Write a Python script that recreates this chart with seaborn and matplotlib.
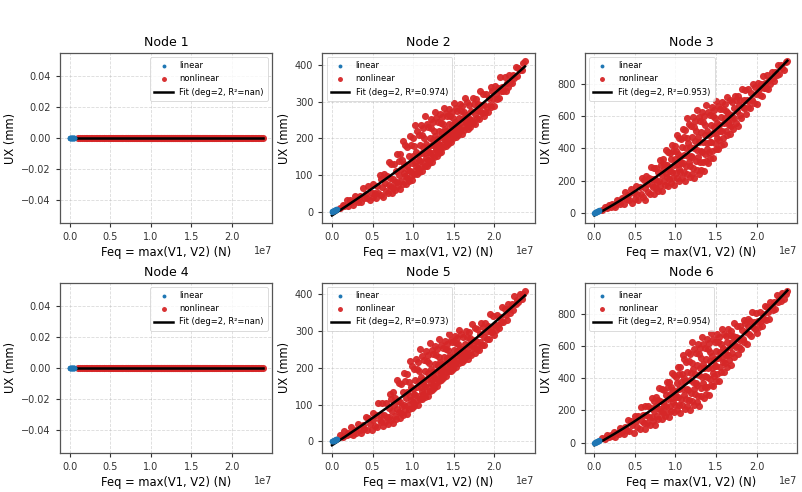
import numpy as np
import matplotlib
matplotlib.use("Agg")
import matplotlib.pyplot as plt
import seaborn as sns

# ---------------- data (Feq in units of 1e7 N, UX in mm) ----------------
feq_x1e7 = [
    0.10, 0.13, 0.15, 0.18,
    0.20, 0.22, 0.24, 0.26, 0.28,
    0.30, 0.32, 0.34, 0.36, 0.38,
    0.40, 0.42, 0.43, 0.45, 0.47, 0.49,
    0.50, 0.51, 0.53, 0.54, 0.56, 0.57, 0.59,
    0.60, 0.61, 0.62, 0.63, 0.64, 0.65, 0.66, 0.68, 0.69,
    0.700, 0.708, 0.716, 0.725, 0.733, 0.741, 0.750, 0.758, 0.766, 0.775, 0.783, 0.791,
    0.800, 0.807, 0.814, 0.821, 0.829, 0.836, 0.843, 0.850, 0.857, 0.864, 0.871, 0.879, 0.886, 0.893,
    0.900, 0.906, 0.912, 0.919, 0.925, 0.931, 0.937, 0.944, 0.950, 0.956, 0.962, 0.969, 0.975, 0.981, 0.987, 0.994,
    1.000, 1.006, 1.011, 1.017, 1.022, 1.028, 1.033, 1.039, 1.044, 1.050, 1.056, 1.061, 1.067, 1.072, 1.078, 1.083, 1.089, 1.094,
    1.100, 1.105, 1.111, 1.116, 1.121, 1.126, 1.132, 1.137, 1.142, 1.147, 1.153, 1.158, 1.163, 1.168, 1.174, 1.179, 1.184, 1.189, 1.195,
    1.200, 1.205, 1.210, 1.215, 1.220, 1.225, 1.230, 1.235, 1.240, 1.245, 1.250, 1.255, 1.260, 1.265, 1.270, 1.275, 1.280, 1.285, 1.290, 1.295,
    1.300, 1.305, 1.310, 1.315, 1.320, 1.325, 1.330, 1.335, 1.340, 1.345, 1.350, 1.355, 1.360, 1.365, 1.370, 1.375, 1.380, 1.385, 1.390, 1.395,
    1.400, 1.405, 1.411, 1.416, 1.421, 1.426, 1.432, 1.437, 1.442, 1.447, 1.453, 1.458, 1.463, 1.468, 1.474, 1.479, 1.484, 1.489, 1.495,
    1.500, 1.506, 1.512, 1.518, 1.524, 1.529, 1.535, 1.541, 1.547, 1.553, 1.559, 1.565, 1.571, 1.576, 1.582, 1.588, 1.594,
    1.600, 1.607, 1.613, 1.620, 1.627, 1.633, 1.640, 1.647, 1.653, 1.660, 1.667, 1.673, 1.680, 1.687, 1.693,
    1.700, 1.708, 1.717, 1.725, 1.733, 1.742, 1.750, 1.758, 1.767, 1.775, 1.783, 1.792,
    1.80, 1.81, 1.82, 1.83, 1.84, 1.85, 1.86, 1.87, 1.88, 1.89,
    1.900, 1.911, 1.922, 1.933, 1.944, 1.956, 1.967, 1.978, 1.989,
    2.000, 2.013, 2.025, 2.038, 2.050, 2.063, 2.075, 2.088,
    2.100, 2.114, 2.129, 2.143, 2.157, 2.171, 2.186,
    2.200, 2.217, 2.233, 2.250, 2.267, 2.283,
    2.30, 2.32, 2.34, 2.36, 2.38,
]

ux_node2 = [
    9, 18, 15, 32,
    16, 32, 25, 17, 42,
    33, 26, 44, 25, 64,
    38, 48, 36, 70, 32, 52,
    39, 75, 50, 37, 70, 52, 100,
    46, 90, 66, 41, 104, 77, 55, 97, 51,
    135, 73, 91, 67, 130, 52, 89, 64, 129, 80, 58, 112,
    81, 157, 69, 138, 100, 62, 157, 116, 83, 140, 75, 194, 106, 130,
    96, 182, 76, 125, 91, 177, 113, 84, 152, 112, 206, 97, 182, 134, 87, 202,
    152, 112, 178, 102, 237, 136, 163, 124, 219, 102, 155, 118, 210, 140, 108, 181, 138, 237,
    122, 210, 159, 111, 228, 176, 135, 202, 125, 260, 159, 186, 147, 240, 125, 177, 141, 230, 162,
    132, 201, 161, 254, 145, 227, 181, 136, 244, 196, 159, 220, 150, 273, 181, 206, 171, 255, 152, 198,
    166, 245, 185, 159, 220, 184, 266, 171, 243, 203, 163, 258, 217, 184, 238, 177, 284, 204, 225, 195,
    268, 179, 220, 191, 261, 208, 185, 239, 208, 280, 196, 260, 224, 189, 273, 237, 208, 255, 201,
    297, 226, 245, 218, 283, 203, 240, 215, 276, 230, 209, 257, 229, 294, 219, 276, 244,
    213, 288, 255, 230, 272, 224, 310, 246, 263, 239, 298, 226, 259, 236, 292,
    250, 232, 276, 251, 310, 243, 295, 266, 239, 307, 278, 256,
    294, 252, 329, 274, 290, 270, 322, 260, 290, 272,
    320, 286, 272, 310, 291, 340, 287, 329, 308,
    288, 343, 322, 307, 338, 309, 367, 328,
    341, 329, 367, 328, 350, 341, 374,
    355, 350, 374, 366, 394, 371,
    393, 388, 386, 407, 412,
]

ux_node3 = [
    17, 34, 30, 52,
    34, 58, 51, 35, 79,
    69, 57, 90, 55, 128,
    85, 108, 82, 149, 63, 121,
    87, 167, 115, 78, 161, 120, 218,
    101, 202, 155, 81, 229, 182, 131, 218, 116,
    284, 173, 213, 159, 279, 116, 211, 154, 281, 192, 135, 255,
    195, 327, 164, 300, 235, 135, 332, 267, 198, 306, 173, 389, 245, 295,
    225, 376, 167, 285, 212, 371, 257, 184, 333, 256, 419, 214, 382, 300, 176, 416,
    335, 250, 382, 216, 482, 303, 364, 274, 465, 200, 350, 255, 459, 312, 216, 409, 308, 522,
    251, 472, 362, 196, 513, 404, 290, 462, 244, 586, 354, 431, 316, 554, 221, 406, 288, 537, 356,
    239, 469, 347, 595, 279, 532, 405, 215, 572, 449, 321, 509, 269, 641, 388, 470, 345, 598, 244, 439,
    314, 572, 386, 268, 501, 380, 627, 315, 565, 441, 258, 603, 485, 364, 544, 319, 669, 432, 509, 396,
    628, 308, 485, 375, 606, 441, 338, 544, 438, 656, 384, 602, 495, 338, 637, 536, 434, 588, 397,
    694, 495, 561, 466, 661, 394, 543, 452, 644, 508, 424, 594, 507, 686, 464, 643, 556,
    429, 673, 592, 510, 635, 483, 722, 564, 617, 544, 698, 490, 607, 538, 687,
    583, 520, 653, 589, 728, 560, 698, 634, 540, 726, 667, 607,
    703, 591, 772, 657, 699, 648, 764, 614, 703, 655,
    766, 693, 649, 746, 701, 802, 684, 783, 739,
    675, 807, 769, 731, 799, 728, 848, 776,
    805, 777, 856, 766, 826, 802, 875,
    836, 816, 877, 857, 916, 860,
    915, 902, 889, 936, 944,
]

ux_node5 = [
    16, 11, 29, 18,
    24, 19, 38, 18, 30,
    23, 46, 31, 24, 45,
    35, 67, 32, 63, 48, 32,
    76, 58, 43, 72, 40, 103, 58,
    72, 54, 103, 43, 72, 52, 104, 66, 48,
    92, 67, 130, 58, 116, 83, 51, 133, 98, 69, 119, 62,
    166, 89, 111, 81, 158, 64, 108, 78, 155, 97, 71, 134, 98, 185,
    84, 163, 118, 75, 182, 135, 98, 162, 89, 219, 122, 149, 112, 204, 90, 143,
    106, 197, 128, 97, 168, 127, 224, 110, 197, 148, 100, 216, 165, 124, 192, 114, 252, 149,
    176, 137, 232, 114, 167, 130, 221, 152, 120, 192, 150, 246, 134, 219, 170, 123, 236, 186, 147,
    212, 138, 268, 170, 196, 159, 248, 139, 188, 154, 238, 174, 146, 211, 173, 260, 159, 236, 192, 150,
    251, 207, 172, 230, 164, 279, 193, 216, 184, 262, 166, 209, 179, 253, 197, 173, 230, 197, 273, 185,
    252, 214, 177, 266, 227, 197, 247, 190, 291, 216, 236, 207, 276, 192, 230, 204, 269, 220, 198,
    249, 219, 287, 209, 268, 235, 202, 281, 246, 220, 264, 213, 303, 236, 254, 229, 291,
    215, 250, 226, 284, 240, 221, 266, 240, 301, 231, 285, 254, 225, 296, 265,
    241, 282, 236, 318, 258, 275, 253, 309, 241, 273, 252, 305,
    266, 249, 291, 269, 323, 262, 310, 285, 261, 323,
    297, 278, 314, 277, 345, 298, 312, 296, 341,
    289, 316, 302, 344, 317, 307, 339, 324,
    365, 324, 360, 344, 331, 373, 359,
    350, 374, 356, 395, 373, 383,
    378, 401, 387, 400, 410,
]

ux_node6 = [
    29, 22, 47, 37,
    47, 41, 68, 37, 62,
    51, 91, 68, 52, 99,
    79, 140, 70, 137, 110, 61,
    168, 134, 99, 163, 87, 220, 135,
    169, 124, 225, 88, 169, 121, 230, 158, 108,
    214, 161, 278, 134, 256, 199, 110, 285, 228, 168, 264, 147,
    338, 212, 257, 194, 331, 145, 251, 186, 330, 228, 163, 299, 230, 379,
    193, 347, 272, 158, 378, 305, 227, 347, 197, 435, 275, 330, 251, 418, 188, 317,
    236, 411, 286, 203, 370, 283, 469, 235, 428, 333, 187, 469, 374, 272, 427, 232, 543, 333,
    404, 298, 518, 212, 382, 273, 503, 336, 228, 442, 329, 564, 266, 507, 387, 205, 551, 432, 308,
    494, 258, 625, 375, 455, 333, 582, 233, 425, 302, 557, 371, 252, 485, 361, 613, 292, 548, 420, 228,
    589, 464, 337, 526, 289, 657, 408, 489, 369, 614, 275, 462, 345, 589, 413, 302, 522, 407, 642, 346,
    583, 466, 295, 620, 510, 398, 566, 358, 682, 464, 536, 432, 645, 353, 516, 416, 626, 476, 383,
    570, 474, 672, 425, 623, 527, 385, 655, 564, 472, 611, 440, 707, 529, 588, 504, 678,
    441, 574, 494, 665, 546, 472, 623, 547, 705, 511, 668, 593, 484, 695, 626,
    556, 665, 535, 742, 608, 655, 593, 727, 549, 652, 593, 723,
    635, 583, 699, 645, 765, 624, 742, 690, 613, 770,
    722, 673, 753, 661, 811, 716, 751, 709, 805,
    681, 756, 719, 810, 754, 722, 800, 768,
    847, 762, 842, 814, 771, 872, 848,
    824, 876, 829, 917, 871, 894,
    879, 928, 891, 923, 940,
]

# Nodes 1 and 4 show UX = 0 for every load case
ux_node1 = [0.0] * len(feq_x1e7)
ux_node4 = [0.0] * len(feq_x1e7)

lin_feq_x1e7 = [0.000, 0.005, 0.010, 0.015, 0.020, 0.025, 0.030, 0.035, 0.040, 0.045, 0.050, 0.055, 0.060]
lin_ux_node1 = [0.0] * len(lin_feq_x1e7)
lin_ux_node4 = [0.0] * len(lin_feq_x1e7)
lin_ux_node2 = [0.0, 0.6, 1.1, 1.7, 2.2, 2.8, 3.3, 3.9, 4.4, 5.0, 5.5, 6.1, 6.6]
lin_ux_node3 = [0.0, 1.2, 2.5, 3.7, 5.0, 6.2, 7.5, 8.7, 10.0, 11.2, 12.5, 13.7, 15.0]
lin_ux_node5 = [0.0, 0.6, 1.1, 1.6, 2.2, 2.7, 3.3, 3.8, 4.4, 4.9, 5.5, 6.0, 6.6]
lin_ux_node6 = [0.0, 1.2, 2.4, 3.7, 4.9, 6.1, 7.3, 8.6, 9.8, 11.0, 12.2, 13.5, 14.7]

node_titles = ["Node 1", "Node 2", "Node 3", "Node 4", "Node 5", "Node 6"]
r2_text = ["nan", "0.974", "0.953", "nan", "0.973", "0.954"]
legend_locs = ["upper right", "upper left", "upper left", "upper right", "upper left", "upper left"]

nonlinear_series = [ux_node1, ux_node2, ux_node3, ux_node4, ux_node5, ux_node6]
linear_series = [lin_ux_node1, lin_ux_node2, lin_ux_node3, lin_ux_node4, lin_ux_node5, lin_ux_node6]

# ---------------- figure ----------------
fig, axes = plt.subplots(2, 3, figsize=(8.03, 4.92), dpi=100)
fig.subplots_adjust(left=0.0747, right=0.9925, bottom=0.0793, top=0.8923,
                    wspace=0.236, hspace=0.35)

x_nl_scaled = np.array(feq_x1e7)
x_lin_scaled = np.array(lin_feq_x1e7)

for ax, title, ux_nl, ux_lin, r2, loc in zip(axes.flat, node_titles, nonlinear_series,
                                            linear_series, r2_text, legend_locs):
    y_nl = np.array(ux_nl, dtype=float)
    y_lin = np.array(ux_lin, dtype=float)

    sns.scatterplot(x=x_lin_scaled * 1e7, y=y_lin, ax=ax, color="#1f77b4", s=16,
                    linewidth=0, label="linear", zorder=5)
    sns.scatterplot(x=x_nl_scaled * 1e7, y=y_nl, ax=ax, color="#d62728", s=26,
                    linewidth=0, alpha=0.95, label="nonlinear", zorder=3)

    x_all = np.concatenate([x_lin_scaled, x_nl_scaled])
    y_all = np.concatenate([y_lin, y_nl])
    coefs = np.polyfit(x_all, y_all, 2)
    xf = np.linspace(x_all.min(), x_all.max(), 200)
    ax.plot(xf * 1e7, np.polyval(coefs, xf), color="black", lw=1.8, zorder=4,
            label=f"Fit (deg=2, R\u00b2={r2})")

    ax.set_title(title, fontsize=9, pad=5)
    ax.set_xlabel("Feq = max(V1, V2) (N)", fontsize=8.3, labelpad=3)
    ax.set_ylabel("UX (mm)", fontsize=8.3, labelpad=3)
    ax.tick_params(labelsize=7, length=3, width=0.8, colors="#333333")
    ax.xaxis.get_offset_text().set_fontsize(7)
    ax.grid(True, linestyle="--", linewidth=0.6, alpha=0.45)
    ax.set_axisbelow(True)
    for sp in ax.spines.values():
        sp.set_color("#555555")
        sp.set_linewidth(0.9)

    leg = ax.legend(loc=loc, fontsize=6, frameon=True, handlelength=2.2,
                    borderpad=0.5, labelspacing=0.5, markerscale=0.7)
    leg.get_frame().set_linewidth(0.6)

fig.savefig("out.png", dpi=100)
